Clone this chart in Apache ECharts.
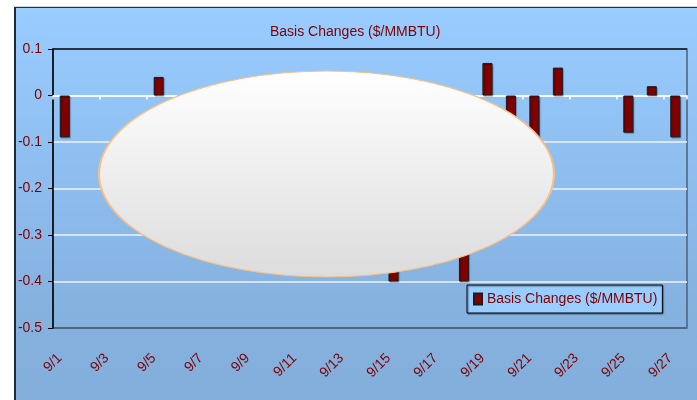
<!DOCTYPE html>
<html>
<head>
<meta charset="utf-8">
<style>
  html, body { margin: 0; padding: 0; background: #ffffff; }
  #frame {
    position: absolute; left: 14px; top: 7px; width: 720px; height: 420px;
    border-left: 2px solid #1e2a3c; border-top: 1px solid #2b3340;
    box-shadow: 0 -1px 0 #cfcfcf;
    background: linear-gradient(to bottom, #99ccff 0px, #8fbff1 150px, #86b2e0 290px, #83aedb 400px);
  }
  #chart { position: absolute; left: 0; top: 0; width: 697px; height: 400px; }
</style>
<script src="https://cdn.jsdelivr.net/npm/echarts@6/dist/echarts.min.js"></script>
</head>
<body>
<div id="frame"></div>
<div id="chart"></div>
<script>
// Daily basis changes, September
const categories = ['9/1','9/2','9/3','9/4','9/5','9/6','9/7','9/8','9/9','9/10','9/11','9/12','9/13','9/14',
  '9/15','9/16','9/17','9/18','9/19','9/20','9/21','9/22','9/23','9/24','9/25','9/26','9/27'];
const seriesName = 'Basis Changes ($/MMBTU)';
const basisChanges = [-0.09, null, null, null, 0.04, -0.05, -0.12, -0.18, null, null, -0.22, -0.15, -0.10, -0.25,
  -0.40, null, null, -0.40, 0.07, -0.12, -0.15, 0.06, null, null, -0.08, 0.02, -0.09];
const yMin = -0.5, yMax = 0.1, yStep = 0.1;

const darkRed = '#800000';
const font = '"Liberation Sans", Arial, sans-serif';

const chart = echarts.init(document.getElementById('chart'), null, { renderer: 'canvas' });

chart.setOption({
  backgroundColor: 'transparent',
  animation: false,
  title: {
    text: seriesName,
    left: 270, top: 25, padding: 0,
    textStyle: { color: darkRed, fontSize: 14, fontWeight: 'normal', fontFamily: font }
  },
  legend: {
    data: [seriesName],
    left: 467, top: 285,
    padding: [6, 5, 6, 6],
    itemWidth: 8, itemHeight: 11, itemGap: 6,
    icon: 'rect',
    backgroundColor: '#99ccff',
    borderColor: '#000000', borderWidth: 1,
    shadowColor: 'rgba(0,0,0,0.45)', shadowBlur: 1, shadowOffsetX: 1, shadowOffsetY: 1,
    textStyle: { color: darkRed, fontSize: 14, fontFamily: font, lineHeight: 16, padding: [0, 0, 0, 0] }
  },
  grid: {
    left: 53, top: 49, width: 634, height: 279,
    show: true, borderColor: '#4f6077', borderWidth: 1.5, backgroundColor: 'transparent'
  },
  xAxis: [
    {
      // zero line with tick marks between every second day
      type: 'category', data: categories, position: 'bottom',
      axisLine: { onZero: true, lineStyle: { color: '#ffffff', width: 1.5 } },
      axisTick: { show: true, interval: 1, length: 4, lineStyle: { color: '#ffffff', width: 1.5 } },
      axisLabel: { show: false },
      splitLine: { show: false }
    },
    {
      // date labels along the bottom of the plot
      type: 'category', data: categories, position: 'bottom',
      axisLine: { show: false, onZero: false },
      axisTick: { show: false },
      axisLabel: {
        interval: 1, rotate: 45, margin: 23, padding: [0, 7, 0, 0],
        color: darkRed, fontSize: 14, fontFamily: font
      },
      splitLine: { show: false }
    }
  ],
  yAxis: {
    type: 'value', min: yMin, max: yMax, interval: yStep,
    axisLine: { show: true, onZero: false, lineStyle: { color: '#000000', width: 1.5 } },
    axisTick: { show: true, length: 5, lineStyle: { color: '#000000' } },
    axisLabel: {
      margin: 11, color: darkRed, fontSize: 14, fontFamily: font,
      formatter: v => String(Math.round(v * 10) / 10)
    },
    splitLine: {
      show: true,
      lineStyle: {
        color: ['#4f6077', '#eef4fb', '#eef4fb', '#eef4fb', '#eef4fb', '#eef4fb', '#1a1a1a'],
        width: 1.5
      }
    }
  },
  series: [{
    name: seriesName,
    type: 'bar',
    xAxisIndex: 0,
    data: basisChanges,
    barWidth: 10,
    itemStyle: {
      color: darkRed,
      borderColor: '#1c1c1c', borderWidth: 1,
      shadowColor: 'rgba(0,0,0,0.35)', shadowBlur: 1, shadowOffsetX: 1, shadowOffsetY: 1
    },
    emphasis: { disabled: true }
  }],
  graphic: [{
    // oval callout panel over the middle of the plot
    type: 'circle',
    x: 326.5, y: 174,
    scaleX: 227.5 / 103,
    shape: { cx: 0, cy: 0, r: 103 },
    z: 100,
    style: {
      fill: {
        type: 'linear', x: 0, y: 0, x2: 0, y2: 1,
        colorStops: [{ offset: 0, color: '#ffffff' }, { offset: 1, color: '#dcdcdc' }]
      },
      stroke: '#f5bf86', lineWidth: 1, strokeNoScale: true
    }
  }]
});
</script>
</body>
</html>
